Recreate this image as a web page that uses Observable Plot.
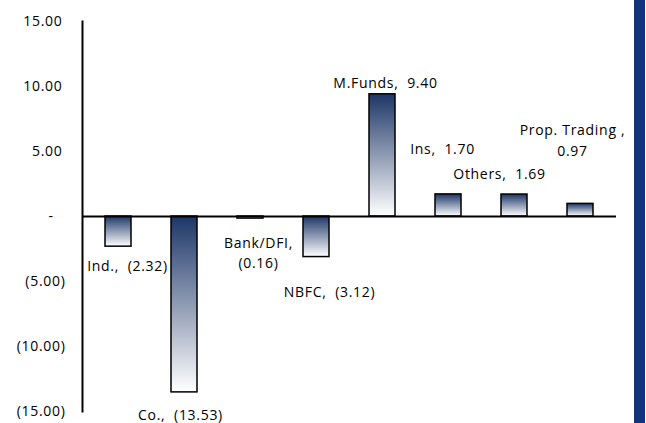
<!DOCTYPE html>
<html>
<head>
<meta charset="utf-8">
<script src="https://cdn.jsdelivr.net/npm/d3@7"></script>
<script src="https://cdn.jsdelivr.net/npm/@observablehq/plot@0.6"></script>
<style>
  html, body { margin: 0; padding: 0; background: #fff; }
  #wrap { position: relative; width: 646px; height: 423px; overflow: hidden; }
  #strip { position: absolute; left: 634px; top: 0; width: 11px; height: 423px; background: #123578; }
</style>
</head>
<body>
<div id="wrap"><div id="chart"></div><div id="strip"></div></div>
<script>
// ---- data ----
const categories = ["Ind.", "Co.", "Bank/DFI", "NBFC", "M.Funds", "Ins", "Others", "Prop. Trading"];
const values = [-2.32, -13.53, -0.16, -3.12, 9.40, 1.70, 1.69, 0.97];
const labelNames = ["Ind.,", "Co.,", "Bank/DFI,", "NBFC,", "M.Funds,", "Ins,", "Others,", "Prop. Trading ,"];
const wrapped = ["Bank/DFI", "Prop. Trading"];
const yTicks = [-15, -10, -5, 0, 5, 10, 15];

const fmtVal = v => v < 0 ? `(${Math.abs(v).toFixed(2)})` : v.toFixed(2);
const fmtAxis = v => v === 0 ? "-\u2007\u2009" : (v < 0 ? `(${Math.abs(v).toFixed(2)})` : v.toFixed(2) + "\u2009");

const rows = categories.map((c, i) => ({
  cat: c,
  value: values[i],
  label: labelNames[i] + (wrapped.includes(c) ? "\n" : "\u00a0 ") + fmtVal(values[i])
}));

// label offsets (style: manual placement as in the source chart)
const offsets = [[9, 18], [-4, 21], [8, 33], [13, 33], [3, -13], [-6, -47], [-15, -22], [-8, -65]];

const labelMarks = rows.map((r, i) => Plot.text([r], {
  x: "cat", y: "value", text: "label",
  dx: offsets[i][0], dy: offsets[i][1],
  fill: "#000", textAnchor: "middle", lineAnchor: "middle", lineHeight: 1.45
}));

const plot = Plot.plot({
  width: 646, height: 423,
  marginLeft: 82, marginRight: 30, marginTop: 21, marginBottom: 12,
  style: { fontFamily: "'Open Sans'", fontSize: "14px", color: "#000", background: "transparent", letterSpacing: "0.7px" },
  x: { domain: categories, paddingInner: 0.6, paddingOuter: 0.3, axis: null },
  y: { domain: [-15, 15], ticks: yTicks, tickFormat: fmtAxis, tickSize: 0, tickPadding: 17, label: null },
  marks: [
    Plot.barY(rows, { x: "cat", y: "value", fill: "url(#barGrad)", stroke: "#000", strokeWidth: 1.5 }),
    Plot.ruleY([0], { stroke: "#000", strokeWidth: 2 }),
    Plot.frame({ anchor: "left", stroke: "#000", strokeWidth: 2 }),
    ...labelMarks
  ]
});

const svg = d3.select(plot);
const grad = svg.insert("defs", ":first-child")
  .append("linearGradient")
  .attr("id", "barGrad").attr("x1", 0).attr("y1", 0).attr("x2", 0).attr("y2", 1);
grad.append("stop").attr("offset", "0%").attr("stop-color", "#1d3667");
grad.append("stop").attr("offset", "100%").attr("stop-color", "#ffffff");

document.getElementById("chart").appendChild(plot);
</script>
</body>
</html>
